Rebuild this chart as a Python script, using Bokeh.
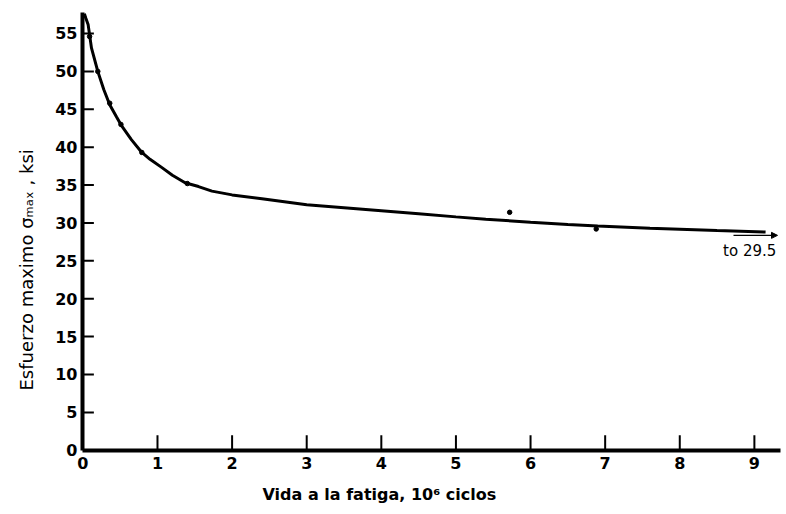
import math
from bokeh.plotting import figure
from bokeh.models import Label, Arrow, NormalHead, FixedTicker, Range1d, Title
from bokeh.embed import file_html
from bokeh.resources import INLINE

# ---- data ----
curve_x = [0.02, 0.04, 0.07, 0.115, 0.2, 0.28, 0.36, 0.45, 0.52, 0.65, 0.79, 0.9,
           1.06, 1.2, 1.37, 1.55, 1.73, 2.0, 2.4, 3.0, 3.5, 4.0, 4.5, 5.0, 5.4,
           6.0, 6.5, 6.9, 7.6, 8.5, 9.15]
curve_y = [57.6, 57.0, 56.2, 53.1, 50.0, 47.6, 45.6, 44.0, 42.8, 41.0, 39.3, 38.4,
           37.3, 36.3, 35.3, 34.8, 34.2, 33.7, 33.2, 32.4, 32.0, 31.6, 31.2, 30.8, 30.5,
           30.1, 29.8, 29.6, 29.3, 29.0, 28.8]
pts_x = [0.09, 0.2, 0.36, 0.51, 0.79, 1.40, 5.72, 6.88]
pts_y = [54.6, 50.0, 45.8, 43.0, 39.3, 35.2, 31.4, 29.2]
x_ticks = [0, 1, 2, 3, 4, 5, 6, 7, 8, 9]
y_ticks = [0, 5, 10, 15, 20, 25, 30, 35, 40, 45, 50, 55]
end_note = "to 29.5"
arrow_x = [8.72, 9.31]
arrow_y = 28.36
x_title = "Vida a la fatiga, 10\u2076 ciclos"
y_title = "Esfuerzo maximo    \u03c3\u2098\u2090\u2093 , ksi"

FONT = "DejaVu Sans"
X0, X1 = -0.005, 9.35
Y0, Y1 = -0.03, 57.77
FRAME_W, FRAME_H = 698, 438
XTICK_PX, YTICK_PX = 15, 11

p = figure(width=786, height=514, output_backend="svg", toolbar_location=None,
           x_range=Range1d(X0, X1), y_range=Range1d(Y0, Y1),
           min_border_left=82, min_border_right=6, min_border_top=12,
           min_border_bottom=64)
p.outline_line_color = None
p.xgrid.visible = False
p.ygrid.visible = False
p.background_fill_color = "white"
p.border_fill_color = "white"

for ax in (p.xaxis[0], p.yaxis[0]):
    ax.axis_line_width = 4
    ax.axis_line_color = "black"
    ax.major_tick_line_color = None
    ax.major_tick_in = 0
    ax.major_tick_out = 0
    ax.minor_tick_line_color = None
    ax.major_label_text_font = FONT
    ax.major_label_text_font_style = "bold"
    ax.major_label_text_font_size = "16px"
    ax.major_label_text_color = "black"
p.xaxis[0].ticker = FixedTicker(ticks=x_ticks)
p.yaxis[0].ticker = FixedTicker(ticks=y_ticks)
p.xaxis[0].major_label_standoff = 6
p.yaxis[0].major_label_standoff = 5

# inward tick marks as short segments (tick lengths converted from pixels)
xt_len = XTICK_PX * (Y1 - Y0) / FRAME_H
yt_len = YTICK_PX * (X1 - X0) / FRAME_W
p.segment(x0=x_ticks, y0=[0] * len(x_ticks), x1=x_ticks,
          y1=[xt_len] * len(x_ticks), line_color="black", line_width=2)
p.segment(x0=[0] * len(y_ticks), y0=y_ticks, x1=[yt_len] * len(y_ticks),
          y1=y_ticks, line_color="black", line_width=2)

p.line(curve_x, curve_y, line_width=3, line_color="black")
p.scatter(pts_x, pts_y, size=4.5, color="black")

p.add_layout(Arrow(end=NormalHead(size=6, fill_color="black", line_color="black"),
                   x_start=arrow_x[0], y_start=arrow_y, x_end=arrow_x[1], y_end=arrow_y,
                   line_width=1.2, line_color="black"))
p.add_layout(Label(x=8.58, y=26.25, text=end_note, text_font=FONT,
                   text_font_size="15px", text_color="black", text_align="left",
                   text_baseline="alphabetic"))

# axis titles
p.add_layout(Title(text=x_title, align="left", offset=180, standoff=22,
                   text_font=FONT, text_font_style="bold", text_font_size="16px",
                   text_color="black"), "below")
p.add_layout(Title(text=y_title, align="left", offset=60, standoff=28,
                   vertical_align="top",
                   text_font=FONT, text_font_style="normal", text_font_size="18px",
                   text_color="black"), "left")

open("out.html", "w").write(file_html(p, INLINE))
